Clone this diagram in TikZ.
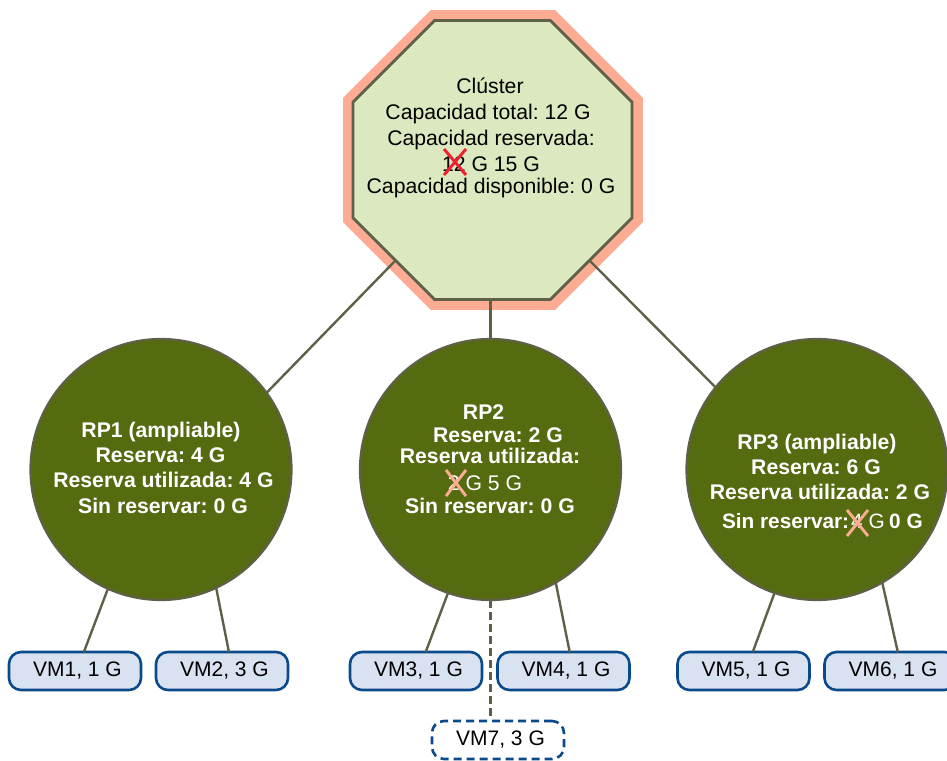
\documentclass[tikz,border=0pt]{standalone}
\usepackage{fontspec}
\setmainfont{Liberation Sans}
\usetikzlibrary{shapes.geometric}
\definecolor{salmon}{HTML}{FBAC93}
\definecolor{palegreen}{HTML}{DCE9C0}
\definecolor{linegray}{HTML}{5F6048}
\definecolor{olive}{HTML}{556B10}
\definecolor{vmfill}{HTML}{D8E2F1}
\definecolor{vmline}{HTML}{0A4A8A}
\definecolor{xred}{HTML}{EE2030}
\frenchspacing
\tikzset{
  x=1pt,y=-1pt,
  link/.style={draw=linegray,line width=2.4pt},
  txt/.style={font=\fontsize{21.2}{25}\selectfont,anchor=base,inner sep=0pt,outer sep=0pt},
  wtxt/.style={txt,text=white},
  btxt/.style={txt,text=white,font=\fontsize{21.2}{25}\selectfont\bfseries},
  halo/.style={regular polygon,regular polygon sides=8,fill=salmon,minimum size=324.7pt,inner sep=0pt,outer sep=0pt},
  octa/.style={regular polygon,regular polygon sides=8,fill=palegreen,draw=linegray,line width=2.8pt,minimum size=302pt,inner sep=0pt,outer sep=0pt},
  rp/.style={circle,fill=olive,draw=linegray,line width=2.2pt,minimum size=261pt,inner sep=0pt,outer sep=0pt},
  vm/.style={rectangle,rounded corners=12pt,fill=vmfill,draw=vmline,line width=2.6pt,minimum width=132pt,minimum height=38pt,inner sep=0pt,outer sep=0pt,font=\fontsize{21}{25}\selectfont},
  vmdash/.style={vm,fill=white,dash pattern=on 8pt off 5pt},
  cross/.style={line width=2.9pt}
}
\newcommand{\vmtext}[1]{\hspace*{5pt}\raisebox{-1pt}{#1}}
\begin{document}
\begin{tikzpicture}
\path[use as bounding box] (0,0) rectangle (947,760);
\clip (0,0) rectangle (947,760);

\node[halo] (clusterhalo) at (493,160) {};
\node[octa] (cluster) at (492.5,160) {};

\node[rp] (rp1) at (161,469.5) {};
\node[rp] (rp2) at (490.5,469.5) {};
\node[rp] (rp3) at (817,469.5) {};

\node[vm] (vm1) at (75,671) {\vmtext{VM1, 1 G}};
\node[vm] (vm2) at (222,671) {\vmtext{VM2, 3 G}};
\node[vm] (vm3) at (416,671) {\vmtext{VM3, 1 G}};
\node[vm] (vm4) at (563.5,671) {\vmtext{VM4, 1 G}};
\node[vm] (vm5) at (743.5,671) {\vmtext{VM5, 1 G}};
\node[vm] (vm6) at (890.5,671) {\vmtext{VM6, 1 G}};
\node[vmdash] (vm7) at (498,740) {\vmtext{VM7, 3 G}};
\coordinate (vm7top) at (490.5,717);

\draw[link] (cluster.226) -- (rp1.36);
\draw[link] (cluster.314) -- (rp3.141);
\draw[link] (rp2.north) -- (rp2.north |- cluster.south);
\draw[link] (rp1.246) -- (vm1.65);
\draw[link] (rp1.295) -- (vm2.70);
\draw[link] (rp2.251) -- (vm3.63);
\draw[link] (rp2.300) -- (vm4.72);
\draw[link] (rp3.251) -- (vm5.64);
\draw[link] (rp3.300) -- (vm6.69);
\draw[link,dash pattern=on 7.5pt off 4.5pt] (rp2.south) -- (vm7top);

\node[txt] (c1) at (490,93) {Clúster};
\node[txt] (c2) at (488,119) {Capacidad total: 12 G};
\node[txt] (c3) at (491,145) {Capacidad reservada:};
\node[txt] (c4) at (491,171) {12 G 15 G};
\node[txt] (c5) at (491,193) {Capacidad disponible: 0 G};

\node[btxt] (a1) at (161,437) {RP1 (ampliable)};
\node[btxt] (a2) at (160.5,462) {Reserva: 4 G};
\node[btxt] (a3) at (163.5,487) {Reserva utilizada: 4 G};
\node[btxt] (a4) at (163,513) {Sin reservar: 0 G};

\node[btxt] (b1) at (483.6,419) {RP2};
\node[btxt] (b2) at (498,442) {Reserva: 2 G};
\node[btxt] (b3) at (490,463) {Reserva utilizada:};
\node[wtxt] (b4) at (485,490) {2 G 5 G};
\node[btxt] (b5) at (490,513) {Sin reservar: 0 G};

\node[btxt] (d1) at (817,449) {RP3 (ampliable)};
\node[btxt] (d2) at (816,474) {Reserva: 6 G};
\node[btxt] (d3) at (820,499) {Reserva utilizada: 2 G};
\node[wtxt,anchor=base west,font=\fontsize{20.8}{25}\selectfont] (d4) at (722,528) {\textbf{Sin reservar:}\hspace{2pt}4 G\hspace{4.5pt}\textbf{0 G}};

\draw[xred,cross] (444,149) -- (466,175) (466,149) -- (444,175);
\draw[salmon,cross] (446,470) -- (466,496) (466,470) -- (446,496);
\draw[salmon,cross] (847,510) -- (868,536) (868,510) -- (847,536);
\end{tikzpicture}
\end{document}
